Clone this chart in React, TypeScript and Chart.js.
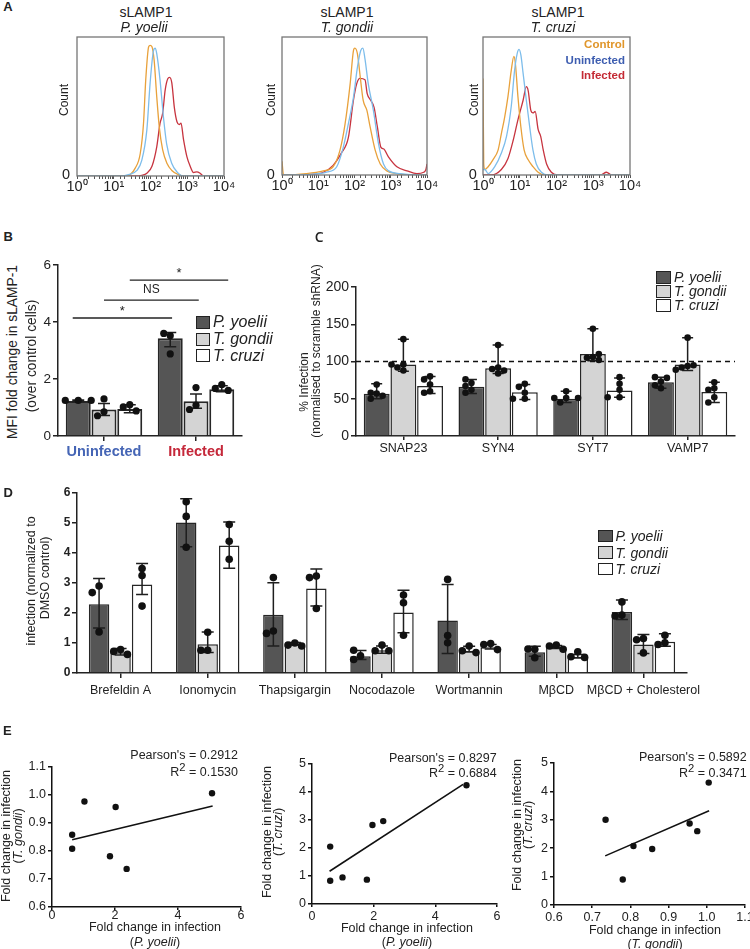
import React, { useEffect, useRef } from 'react';
import { Chart, registerables } from 'chart.js';

Chart.register(...registerables);

const FONT = "'Liberation Sans', Arial, Helvetica, sans-serif";
Chart.defaults.font.family = FONT;
Chart.defaults.color = '#222';

// ---------------- Panel A : histograms [log10(intensity), count %] ----------------
const pyControl = [[0,0],[1.31,0],[1.45,1],[1.58,5.5],[1.72,16],[1.81,38],[1.87,69],[1.95,93],[1.99,94],[2.04,93],[2.1,83],[2.17,57],[2.24,35],[2.33,19],[2.45,9],[2.58,4],[2.76,1],[2.9,0],[4,0]];
const pyUninfected = [[0,0],[1.2,0],[1.4,1],[1.63,4],[1.76,11],[1.9,33],[1.99,67],[2.08,90],[2.13,92],[2.17,88],[2.26,69],[2.35,43],[2.44,23],[2.58,9],[2.72,3],[2.9,0],[4,0]];
const pyInfected = [[0,0],[1.6,0],[1.76,0.5],[1.9,2],[2.04,7],[2.17,21],[2.26,38],[2.33,45],[2.4,62],[2.47,70],[2.52,71],[2.58,67],[2.65,49],[2.72,39],[2.78,37],[2.83,38],[2.9,26],[2.99,14],[3.08,7],[3.17,2.5],[3.26,3],[3.35,2],[3.44,0],[4,0]];
const tgControl = [[0,10],[0.04,0.5],[0.12,0],[0.67,1],[1.14,3],[1.41,6],[1.6,18],[1.74,37],[1.88,66],[1.97,90],[2.01,92],[2.08,88],[2.15,73],[2.24,54],[2.34,47],[2.43,35],[2.57,18],[2.71,8],[2.89,3],[3.17,1],[3.6,0],[4,0]];
const tgUninfected = [[0,0],[0.8,0.5],[1.23,2],[1.51,6],[1.69,20],[1.83,37],[1.97,56],[2.08,78],[2.17,90],[2.23,92],[2.29,84],[2.38,66],[2.52,47],[2.66,23],[2.8,8],[2.94,3],[3.26,1],[3.8,0],[4,0]];
const tgInfected = [[0,0],[0.8,0.5],[1.14,2],[1.41,7],[1.64,16],[1.83,27],[1.97,54],[2.06,66],[2.15,70],[2.29,69],[2.35,59],[2.45,54],[2.54,49],[2.63,35],[2.73,20],[2.8,19],[2.94,13],[3.17,6],[3.45,3],[3.72,1],[3.91,2],[3.97,4],[4,8]];
const tcControl = [[0,70],[0.02,8],[0.05,4],[0.14,6],[0.27,11],[0.41,18],[0.5,30],[0.59,42],[0.68,57],[0.77,76],[0.84,86],[0.88,81],[0.95,57],[1.03,35],[1.12,18],[1.23,11],[1.36,6],[1.5,2],[1.68,0],[4,0]];
const tcUninfected = [[0,4],[0.05,4],[0.14,1],[0.32,6],[0.5,16],[0.64,28],[0.77,50],[0.86,76],[0.93,88],[0.98,91],[1.03,87],[1.09,74],[1.18,54],[1.27,35],[1.36,18],[1.45,8],[1.59,2],[1.77,0],[4,0]];
const tcInfected = [[0,0],[0.23,0],[0.5,4],[0.68,12],[0.82,25],[0.95,40],[1.09,54],[1.18,64],[1.23,61],[1.3,47],[1.36,45],[1.42,46],[1.5,33],[1.57,28],[1.64,18],[1.73,8],[1.86,2],[2.05,0],[3.2,0],[3.36,2],[3.5,0],[4,0]];
const histGroups = ['Control', 'Uninfected', 'Infected'];
const histTitles = ['P. yoelii', 'T. gondii', 'T. cruzi'];

// ---------------- Shared series ----------------
const seriesNames = ['P. yoelii', 'T. gondii', 'T. cruzi'];

// ---------------- Panel B ----------------
const bCategories = ['Uninfected', 'Infected'];
const bMeanPY = [1.23, 3.43];
const bMeanTG = [0.93, 1.22];
const bMeanTC = [0.95, 1.64];
const bLoPY = [1.21, 3.13]; const bHiPY = [1.26, 3.63];
const bLoTG = [0.72, 0.97]; const bHiTG = [1.14, 1.47];
const bLoTC = [0.82, 1.55]; const bHiTC = [1.1, 1.76];
const bDotsPY = [[1.25, 1.25, 1.25], [3.52, 3.6, 2.88]];
const bDotsTG = [[0.85, 1.3, 0.71], [1.08, 1.7, 0.93]];
const bDotsTC = [[1.1, 1.02, 0.88], [1.8, 1.67, 1.6]];
const bSigFrom = [-0.34, 0.0, 0.28];
const bSigTo = [0.74, 1.03, 1.35];
const bSigY = [4.14, 4.77, 5.47];
const bSigLabel = ['*', 'NS', '*'];

// ---------------- Panel C ----------------
const cCategories = ['SNAP23', 'SYN4', 'SYT7', 'VAMP7'];
const cMeanPY = [56.8, 66, 50, 72];
const cMeanTG = [96, 91, 110, 96];
const cMeanTC = [67, 58.6, 61, 59];
const cLoPY = [50, 57, 45, 64]; const cHiPY = [70, 76, 60, 79];
const cLoTG = [87, 84, 101, 88]; const cHiTG = [130, 122, 144, 132];
const cLoTC = [57, 49, 52, 45]; const cHiTC = [80, 69, 78, 72];
const cDotsPY = [[57, 58, 69, 54, 50], [71, 67, 76, 62, 58], [51, 51, 60, 51, 45], [73, 79, 68, 78, 64]];
const cDotsTG = [[96, 92, 130, 96, 88], [92, 90, 122, 88, 84], [106, 105, 144, 110, 102], [94, 92, 132, 95, 89]];
const cDotsTC = [[80, 60, 76, 58, 69], [58, 70, 50, 66, 50], [62, 79, 52, 70, 52], [72, 52, 64, 45, 62]];
const cReference = 100;

// ---------------- Panel D ----------------
const dCategories = ['Brefeldin A', 'Ionomycin', 'Thapsigargin', 'Nocodazole', 'Wortmannin', 'MβCD', 'MβCD + Cholesterol'];
const dMeanPY = [2.29, 5.02, 1.94, 0.56, 1.75, 0.69, 2.03];
const dMeanTG = [0.69, 0.96, 0.98, 0.76, 0.74, 0.87, 0.95];
const dMeanTC = [2.95, 4.25, 2.82, 2.02, 0.86, 0.54, 1.04];
const dLoPY = [1.5, 4.21, 0.9, 0.45, 0.65, 0.56, 1.78]; const dHiPY = [3.15, 5.81, 3.01, 0.75, 2.95, 0.89, 2.43];
const dLoTG = [0.6, 0.68, 0.93, 0.66, 0.7, 0.82, 0.65]; const dHiTG = [0.82, 1.37, 1.02, 0.9, 0.89, 0.92, 1.28];
const dLoTC = [2.62, 3.49, 2.23, 1.34, 0.8, 0.5, 0.89]; const dHiTC = [3.65, 5.03, 3.47, 2.76, 0.95, 0.62, 1.31];
const dDotsPY = [[2.9, 1.37, 2.68], [5.71, 5.22, 4.19], [3.18, 1.4, 1.32], [0.57, 0.76, 0.45], [3.12, 1.25, 1.01], [0.79, 0.8, 0.51], [2.37, 1.93, 1.9]];
const dDotsTG = [[0.78, 0.72, 0.62], [1.36, 0.76, 0.76], [1.0, 0.93, 0.9], [0.93, 0.74, 0.74], [0.9, 0.74, 0.68], [0.93, 0.9, 0.79], [1.15, 1.11, 0.67]];
const dDotsTC = [[3.48, 3.25, 2.23], [4.95, 4.39, 3.79], [3.23, 3.18, 2.15], [2.6, 2.34, 1.26], [0.98, 0.95, 0.78], [0.71, 0.54, 0.52], [1.26, 1.01, 0.95]];

// ---------------- Panel E ----------------
const e1Points = [[0.64, 0.858], [0.64, 0.808], [1.03, 0.977], [1.84, 0.781], [2.02, 0.957], [2.37, 0.736], [5.08, 1.006]];
const e1Fit = [[0.64, 0.84], [5.1, 0.961]];
const e2Points = [[0.59, 2.05], [0.59, 0.83], [0.99, 0.95], [1.78, 0.87], [1.96, 2.82], [2.31, 2.96], [5.01, 4.24]];
const e2Fit = [[0.57, 1.17], [4.9, 4.27]];
const e3Points = [[0.735, 3.0], [0.78, 0.9], [0.808, 2.08], [0.857, 1.97], [0.955, 2.87], [0.975, 2.6], [1.005, 4.31]];
const e3Fit = [[0.734, 1.73], [1.006, 3.32]];
const ePearson = ['0.2912', '0.8297', '0.5892'];
const eR2 = ['0.1530', '0.6884', '0.3471'];

// ---------------- styles ----------------
const SUP = ['⁰', '¹', '²', '³', '⁴'];
const H_ORANGE = '#E8A13B', H_BLUE = '#7DBDEB', H_RED = '#C7343F';
const FILL = ['#555555', '#d4d4d4', '#ffffff'];
const EDGE = '#262626';

type Area = { x0: number; y0: number; x1: number; y1: number };
type Mar = { l: number; t: number; r: number; b: number };

function ChartBox({ area, mar, make }: { area: Area; mar: Mar; make: () => any }) {
  const ref = useRef<HTMLCanvasElement | null>(null);
  const w = area.x1 - area.x0 + mar.l + mar.r;
  const h = area.y1 - area.y0 + mar.t + mar.b;
  useEffect(() => {
    const cfg = make();
    const o = cfg.options || (cfg.options = {});
    o.animation = false;
    o.responsive = false;
    o.maintainAspectRatio = false;
    o.devicePixelRatio = 1;
    o.layout = { padding: { left: 0, right: mar.r, top: mar.t, bottom: 0 } };
    o.plugins = { legend: { display: false }, tooltip: { enabled: false }, ...(o.plugins || {}) };
    o.scales.x.afterFit = (s: any) => { s.height = mar.b; };
    o.scales.y.afterFit = (s: any) => { s.width = mar.l; };
    const chart = new Chart(ref.current as HTMLCanvasElement, cfg);
    return () => chart.destroy();
  }, []);
  return (
    <canvas ref={ref} width={w} height={h}
      style={{ position: 'absolute', left: area.x0 - mar.l, top: area.y0 - mar.t, width: w, height: h }} />
  );
}

function T({ x, y, s = 12, w = 400, it = false, c = '#222', a = 'c', rot = false, f = FONT, children }: any) {
  const tx = a === 'c' ? '-50%' : a === 'r' ? '-100%' : '0%';
  return (
    <div style={{
      position: 'absolute', left: x, top: y,
      transform: `translate(${tx},-50%)` + (rot ? ' rotate(-90deg)' : ''),
      fontFamily: f, fontSize: s, fontWeight: w, fontStyle: it ? 'italic' : 'normal',
      color: c, whiteSpace: 'nowrap', lineHeight: 1.15,
    }}>{children}</div>
  );
}

function Legend({ x, y, dy, bw, bh, s }: { x: number; y: number; dy: number; bw: number; bh: number; s: number }) {
  return (
    <>
      {seriesNames.map((n, i) => (
        <React.Fragment key={n}>
          <div style={{ position: 'absolute', left: x, top: y + i * dy - bh / 2, width: bw, height: bh, background: FILL[i], border: '1.2px solid #222', boxSizing: 'border-box' }} />
          <T x={x + bw + 3} y={y + i * dy} s={s} it a="l">{n}</T>
        </React.Fragment>
      ))}
    </>
  );
}

// ---------------- plugins ----------------
const boxPlugin = {
  id: 'box',
  afterDatasetsDraw(chart: any) {
    const { ctx, chartArea: a } = chart;
    ctx.save();
    ctx.strokeStyle = '#767676';
    ctx.lineWidth = 1.3;
    ctx.strokeRect(a.left, a.top, a.right - a.left, a.bottom - a.top);
    ctx.restore();
  },
};

type Err = { lo: number[]; hi: number[]; dots: number[][] };
function errDotsPlugin(series: Err[], cap: number, r: number, lw: number) {
  return {
    id: 'errDots',
    afterDatasetsDraw(chart: any) {
      const ctx = chart.ctx;
      const ys = chart.scales.y;
      ctx.save();
      ctx.strokeStyle = '#1e1e1e';
      ctx.lineWidth = lw;
      series.forEach((s, di) => {
        chart.getDatasetMeta(di).data.forEach((el: any, i: number) => {
          const x = el.x;
          const yl = ys.getPixelForValue(s.lo[i]);
          const yh = ys.getPixelForValue(s.hi[i]);
          ctx.beginPath();
          ctx.moveTo(x, yl); ctx.lineTo(x, yh);
          ctx.moveTo(x - cap / 2, yh); ctx.lineTo(x + cap / 2, yh);
          ctx.moveTo(x - cap / 2, yl); ctx.lineTo(x + cap / 2, yl);
          ctx.stroke();
        });
      });
      ctx.fillStyle = '#111';
      series.forEach((s, di) => {
        chart.getDatasetMeta(di).data.forEach((el: any, i: number) => {
          const placed: { x: number; y: number }[] = [];
          const d = 2 * r;
          (s.dots[i] || []).forEach((v) => {
            const py = ys.getPixelForValue(v);
            let px = el.x;
            for (const k of [0, -1, 1, -2, 2, -3, 3]) {
              px = el.x + k * d * 0.9;
              if (placed.every((p) => Math.hypot(p.x - px, p.y - py) >= d * 0.9)) break;
            }
            placed.push({ x: px, y: py });
            ctx.beginPath();
            ctx.arc(px, py, r, 0, Math.PI * 2);
            ctx.fill();
          });
        });
      });
      ctx.restore();
    },
  };
}

const sigPlugin = {
  id: 'sig',
  afterDatasetsDraw(chart: any) {
    const { ctx } = chart;
    const xs = chart.scales.x, ys = chart.scales.y;
    ctx.save();
    ctx.strokeStyle = '#222';
    ctx.lineWidth = 1.3;
    ctx.fillStyle = '#222';
    ctx.textAlign = 'center';
    ctx.textBaseline = 'middle';
    bSigY.forEach((v, i) => {
      const x0 = xs.getPixelForValue(bSigFrom[i]);
      const x1 = xs.getPixelForValue(bSigTo[i]);
      const y = ys.getPixelForValue(v);
      ctx.beginPath(); ctx.moveTo(x0, y); ctx.lineTo(x1, y); ctx.stroke();
      ctx.font = bSigLabel[i] === '*' ? `13px ${FONT}` : `12px ${FONT}`;
      ctx.fillText(bSigLabel[i], (x0 + x1) / 2, y - (bSigLabel[i] === '*' ? 7 : 10));
    });
    ctx.restore();
  },
};

const refLinePlugin = {
  id: 'refLine',
  afterDatasetsDraw(chart: any) {
    const { ctx, chartArea: a } = chart;
    const y = chart.scales.y.getPixelForValue(cReference);
    ctx.save();
    ctx.strokeStyle = '#111';
    ctx.lineWidth = 1.6;
    ctx.setLineDash([5, 4]);
    ctx.beginPath(); ctx.moveTo(a.left, y); ctx.lineTo(a.right, y); ctx.stroke();
    ctx.restore();
  },
};

// ---------------- configs ----------------
function histConfig(control: number[][], uninf: number[][], inf: number[][]) {
  const mk = (d: number[][], color: string) => ({
    data: d.map(([l, v]) => ({ x: Math.pow(10, l), y: v })),
    borderColor: color, borderWidth: 1.3, pointRadius: 0,
    cubicInterpolationMode: 'monotone', fill: false,
  });
  return {
    type: 'line',
    data: { datasets: [mk(uninf, H_BLUE), mk(control, H_ORANGE), mk(inf, H_RED)] },
    options: {
      scales: {
        x: {
          type: 'logarithmic', min: 1, max: 10000,
          border: { display: false },
          grid: { display: true, drawOnChartArea: false, tickLength: 3, color: '#555', lineWidth: 1 },
          ticks: {
            autoSkip: false, maxRotation: 0, minRotation: 0, padding: -1, font: { size: 14.5 }, color: '#222',
            callback: (v: number) => {
              const l = Math.log10(v);
              const r = Math.round(l);
              return Math.abs(l - r) < 1e-6 ? '10' + SUP[r] : '';
            },
          },
        },
        y: {
          min: 0, max: 100,
          border: { display: false },
          grid: { display: false },
          ticks: { display: false, stepSize: 100 },
        },
      },
    },
    plugins: [boxPlugin],
  };
}

function barConfig(labels: string[], means: number[][], errs: Err[], o: any) {
  return {
    type: 'bar',
    data: {
      labels,
      datasets: means.map((m, i) => ({ label: seriesNames[i], data: m, backgroundColor: FILL[i], borderColor: EDGE, borderWidth: o.bw })),
    },
    options: {
      datasets: { bar: { categoryPercentage: o.cp, barPercentage: o.bp } },
      scales: {
        x: {
          grid: { offset: false, drawOnChartArea: false, tickLength: o.xtl, color: '#222', lineWidth: 1.5 },
          border: { color: '#222', width: 1.5 },
          ticks: { padding: o.xpad, font: o.xfont, color: o.xcolor || '#222', autoSkip: false, maxRotation: 0 },
        },
        y: {
          min: o.ymin, max: o.ymax,
          grid: { drawOnChartArea: false, tickLength: 5, color: '#222', lineWidth: 1.5 },
          border: { color: '#222', width: 1.5 },
          ticks: { stepSize: o.ystep, padding: o.ypad, font: o.yfont, color: '#222' },
        },
      },
    },
    plugins: [errDotsPlugin(errs, o.cap, o.r, 1.5), ...(o.extra || [])],
  };
}

function scatterConfig(points: number[][], fit: number[][], xr: number[], yr: number[], xpad: number) {
  const fmt = (step: number) => (v: number) => (step < 1 ? Number(v).toFixed(1) : String(v));
  return {
    type: 'scatter',
    data: {
      datasets: [
        { type: 'line', data: fit.map(([x, y]) => ({ x, y })), borderColor: '#111', borderWidth: 1.6, pointRadius: 0, fill: false },
        { data: points.map(([x, y]) => ({ x, y })), backgroundColor: '#111', borderColor: '#111', pointRadius: 3.2, borderWidth: 0 },
      ],
    },
    options: {
      scales: {
        x: {
          type: 'linear', min: xr[0], max: xr[1],
          grid: { drawOnChartArea: false, tickLength: 3, color: '#111', lineWidth: 1.5 },
          border: { color: '#111', width: 1.5 },
          ticks: { stepSize: xr[2], padding: xpad, font: { size: 12.5 }, color: '#222', maxRotation: 0, callback: fmt(xr[2]) },
        },
        y: {
          type: 'linear', min: yr[0], max: yr[1],
          grid: { drawOnChartArea: false, tickLength: 4, color: '#111', lineWidth: 1.5 },
          border: { color: '#111', width: 1.5 },
          ticks: { stepSize: yr[2], padding: 2, font: { size: 12.5 }, color: '#222', callback: fmt(yr[2]) },
        },
      },
    },
  };
}

const histMar: Mar = { l: 20, t: 10, r: 14, b: 22 };
const sMar: Mar = { l: 30, t: 10, r: 12, b: 22 };

export default function App() {
  const histAreas: Area[] = [
    { x0: 77, y0: 37, x1: 224, y1: 176 },
    { x0: 282, y0: 37, x1: 427, y1: 175 },
    { x0: 483, y0: 37, x1: 630, y1: 175 },
  ];
  const histData = [
    [pyControl, pyUninfected, pyInfected],
    [tgControl, tgUninfected, tgInfected],
    [tcControl, tcUninfected, tcInfected],
  ];
  const titleX = [[146, 144], [347, 347], [558, 553]];
  const countX = [65, 271.7, 475];
  const zeroX = [66, 270.7, 472.7];

  const bErr: Err[] = [
    { lo: bLoPY, hi: bHiPY, dots: bDotsPY },
    { lo: bLoTG, hi: bHiTG, dots: bDotsTG },
    { lo: bLoTC, hi: bHiTC, dots: bDotsTC },
  ];
  const cErr: Err[] = [
    { lo: cLoPY, hi: cHiPY, dots: cDotsPY },
    { lo: cLoTG, hi: cHiTG, dots: cDotsTG },
    { lo: cLoTC, hi: cHiTC, dots: cDotsTC },
  ];
  const dErr: Err[] = [
    { lo: dLoPY, hi: dHiPY, dots: dDotsPY },
    { lo: dLoTG, hi: dHiTG, dots: dDotsTG },
    { lo: dLoTC, hi: dHiTC, dots: dDotsTC },
  ];

  const ital = (s: string) => <>(<i>{s}</i>)</>;
  const r2 = (v: string) => <>R<span style={{ fontSize: '0.9em', verticalAlign: '0.4em', lineHeight: 0 }}>2</span> = {v}</>;

  return (
    <div style={{ position: 'absolute', left: 0, top: 0, width: 750, height: 949, overflow: 'hidden', background: '#fff', fontFamily: FONT }}>
      {/* Panel A */}
      {histAreas.map((a, i) => (
        <ChartBox key={'h' + i} area={a} mar={histMar} make={() => histConfig(histData[i][0], histData[i][1], histData[i][2])} />
      ))}

      {/* Panel B */}
      <ChartBox area={{ x0: 58, y0: 265, x1: 242, y1: 436 }} mar={{ l: 24, t: 12, r: 10, b: 28 }}
        make={() => barConfig(bCategories, [bMeanPY, bMeanTG, bMeanTC], bErr, {
          bw: 2, cp: 0.84, bp: 0.97, xtl: 5, xpad: 2.3, xfont: { size: 14.5, weight: 'bold' },
          xcolor: (c: any) => (c.index === 0 ? '#4565B5' : '#C5283A'),
          ymin: 0, ymax: 6, ystep: 2, ypad: 2, yfont: { size: 13.5 }, cap: 12, r: 3.6, extra: [sigPlugin],
        })} />

      {/* Panel C */}
      <ChartBox area={{ x0: 356, y0: 287, x1: 735, y1: 436 }} mar={{ l: 40, t: 12, r: 14, b: 20 }}
        make={() => barConfig(cCategories, [cMeanPY, cMeanTG, cMeanTC], cErr, {
          bw: 1.5, cp: 0.845, bp: 0.97, xtl: 4, xpad: 0.8, xfont: { size: 12.5 },
          ymin: 0, ymax: 200, ystep: 50, ypad: 2, yfont: { size: 14 }, cap: 11, r: 3.3, extra: [refLinePlugin],
        })} />

      {/* Panel D */}
      <ChartBox area={{ x0: 77, y0: 493, x1: 687, y1: 673 }} mar={{ l: 30, t: 12, r: 20, b: 30 }}
        make={() => barConfig(dCategories, [dMeanPY, dMeanTG, dMeanTC], dErr, {
          bw: 1.5, cp: 0.74, bp: 0.95, xtl: 5, xpad: 5.2, xfont: { size: 12.5 },
          ymin: 0, ymax: 6, ystep: 1, ypad: 1.5, yfont: { size: 12, weight: 'bold' }, cap: 12, r: 3.8,
        })} />

      {/* Panel E */}
      <ChartBox area={{ x0: 52, y0: 767, x1: 241, y1: 907 }} mar={sMar}
        make={() => scatterConfig(e1Points, e1Fit, [0, 6, 2], [0.6, 1.1, 0.1], -2)} />
      <ChartBox area={{ x0: 312, y0: 764, x1: 497, y1: 904 }} mar={sMar}
        make={() => scatterConfig(e2Points, e2Fit, [0, 6, 2], [0, 5, 1], 2)} />
      <ChartBox area={{ x0: 554, y0: 763, x1: 745, y1: 905 }} mar={sMar}
        make={() => scatterConfig(e3Points, e3Fit, [0.6, 1.1, 0.1], [0, 5, 1], 2)} />

      {/* ---- text: Panel A ---- */}
      <T x={8} y={7} s={13} w={700}>A</T>
      {histTitles.map((t, i) => (
        <React.Fragment key={'t' + i}>
          <T x={titleX[i][0]} y={12} s={14}>sLAMP1</T>
          <T x={titleX[i][1]} y={27} s={14} it>{t}</T>
          <T x={countX[i]} y={100} s={12} rot>Count</T>
          <T x={zeroX[i]} y={174} s={14.5}>0</T>
        </React.Fragment>
      ))}
      <T x={625} y={45} s={11.5} w={700} c="#E0962B" a="r">{histGroups[0]}</T>
      <T x={625} y={60.7} s={11.5} w={700} c="#3D5DB0" a="r">{histGroups[1]}</T>
      <T x={625} y={76} s={11.5} w={700} c="#C42A34" a="r">{histGroups[2]}</T>

      {/* ---- Panel B ---- */}
      <T x={8.3} y={236.7} s={13} w={700}>B</T>
      <T x={13.3} y={352} s={13.8} rot>MFI fold change in sLAMP-1</T>
      <T x={31.7} y={356} s={13.8} rot>(over control cells)</T>
      <Legend x={196} y={322.3} dy={16.7} bw={14} bh={13} s={16} />

      {/* ---- Panel C ---- */}
      <T x={319.3} y={236.7} s={14} w={600} f="'Open Sans', sans-serif">C</T>
      <T x={305} y={382} s={12} rot>% Infection</T>
      <T x={316.7} y={351} s={12} rot>(normalised to scramble shRNA)</T>
      <Legend x={656} y={277} dy={14.2} bw={15} bh={13} s={14} />

      {/* ---- Panel D ---- */}
      <T x={8.3} y={493.3} s={13} w={700}>D</T>
      <T x={30.7} y={580.8} s={12.5} rot>infection (normalized to</T>
      <T x={45} y={578} s={12.5} rot>DMSO control)</T>
      <Legend x={598} y={536} dy={16.5} bw={14.5} bh={12.5} s={14} />

      {/* ---- Panel E ---- */}
      <T x={7.3} y={730.7} s={13} w={700}>E</T>

      <T x={238} y={755} s={12.5} a="r">Pearson's = {ePearson[0]}</T>
      <T x={238} y={771.7} s={12.5} a="r">{r2(eR2[0])}</T>
      <T x={155} y={927} s={12.5}>Fold change in infection</T>
      <T x={155} y={942} s={12.5}>{ital('P. yoelii')}</T>
      <T x={6} y={836} s={12.5} rot>Fold change in infection</T>
      <T x={18} y={836} s={12.5} rot>{ital('T. gondii')}</T>

      <T x={496.7} y={757.7} s={12.5} a="r">Pearson's = {ePearson[1]}</T>
      <T x={496.7} y={773} s={12.5} a="r">{r2(eR2[1])}</T>
      <T x={407} y={927.7} s={12.5}>Fold change in infection</T>
      <T x={407} y={942} s={12.5}>{ital('P. yoelii')}</T>
      <T x={266.7} y={831.7} s={12.5} rot>Fold change in infection</T>
      <T x={278.3} y={831.7} s={12.5} rot>{ital('T. cruzi')}</T>

      <T x={746.7} y={756.7} s={12.5} a="r">Pearson's = {ePearson[2]}</T>
      <T x={746.7} y={772.7} s={12.5} a="r">{r2(eR2[2])}</T>
      <T x={655} y={930} s={12.5}>Fold change in infection</T>
      <T x={655} y={944} s={12.5}>{ital('T. gondii')}</T>
      <T x={516.7} y={825} s={12.5} rot>Fold change in infection</T>
      <T x={528.3} y={825} s={12.5} rot>{ital('T. cruzi')}</T>
    </div>
  );
}
